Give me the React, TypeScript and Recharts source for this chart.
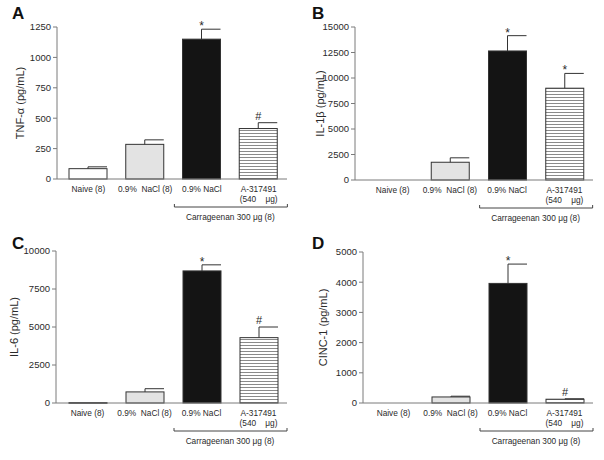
import React from 'react';
import { BarChart, Bar, XAxis, YAxis } from 'recharts';

const groups = ['Naive (8)', '0.9%  NaCl (8)', '0.9% NaCl', 'A-317491'];
const groupSub = ['', '', '', '(540    μg)'];
const bracketLabel = 'Carrageenan 300 μg (8)';

const tnfMean = [85, 285, 1150, 415];
const tnfSem = [15, 37, 82, 48];
const tnfMark = ['', '', '*', '#'];
const tnfTicks = [0, 250, 500, 750, 1000, 1250];

const il1Mean = [0, 1740, 12650, 9000];
const il1Sem = [0, 435, 1500, 1450];
const il1Mark = ['', '', '*', '*'];
const il1Ticks = [0, 2500, 5000, 7500, 10000, 12500, 15000];

const il6Mean = [30, 730, 8690, 4300];
const il6Sem = [0, 210, 400, 700];
const il6Mark = ['', '', '*', '#'];
const il6Ticks = [0, 2500, 5000, 7500, 10000];

const cincMean = [0, 200, 3960, 125];
const cincSem = [0, 25, 640, 15];
const cincMark = ['', '', '*', '#'];
const cincTicks = [0, 1000, 2000, 3000, 4000, 5000];

const FONT = '"Liberation Sans", Arial, sans-serif';
const AXIS = '#7a7a7a';
const INK = '#2a2a2a';
const BAND = 57;
const fills = ['#ffffff', '#e3e3e3', '#141414'];

function rows(mean: number[], sem: number[], mark: string[]) {
  return groups.map((g, i) => ({ group: g, idx: i, mean: mean[i], sem: sem[i], mark: mark[i] }));
}

function makeShape(pid: string) {
  return (p: any) => {
    const { x, y, width, height, payload } = p;
    if (!payload || !payload.mean) return <g />;
    const k = height / payload.mean;
    const cx = x + width / 2;
    const top = y - payload.sem * k;
    const striped = payload.idx === 3;
    const fill = striped ? `url(#stripes-${pid})` : fills[payload.idx];
    return (
      <g>
        {striped && (
          <defs>
            <pattern id={`stripes-${pid}`} patternUnits="userSpaceOnUse" width={6} height={3}>
              <rect width={6} height={3} fill="#fff" />
              <line x1={0} y1={1.5} x2={6} y2={1.5} stroke="#8a8a8a" strokeWidth={1} />
            </pattern>
          </defs>
        )}
        <rect x={x} y={y} width={width} height={Math.max(height, 0.8)} fill={fill} stroke="#333" strokeWidth={1} />
        {payload.sem > 0 && (
          <path d={`M${cx},${y} V${top} H${x + width}`} stroke="#333" strokeWidth={1} fill="none" />
        )}
        {payload.mark && (
          <text
            x={cx}
            y={payload.mark === '*' ? top + 1 : top - 3}
            textAnchor="middle"
            fontSize={payload.mark === '*' ? 12 : 11}
            fontFamily={FONT}
            fill={INK}
          >
            {payload.mark}
          </text>
        )}
      </g>
    );
  };
}

function XTick(p: any) {
  const { x, y, payload } = p;
  const i = groups.indexOf(payload.value);
  return (
    <g>
      <text x={x} y={y + 13} textAnchor="middle" fontSize={8.3} fontFamily={FONT} fill={INK} style={{ whiteSpace: 'pre' }}>
        {payload.value}
      </text>
      {groupSub[i] && (
        <text x={x} y={y + 23} textAnchor="middle" fontSize={8.3} fontFamily={FONT} fill={INK} style={{ whiteSpace: 'pre' }}>
          {groupSub[i]}
        </text>
      )}
      {i === 2 && (
        <g>
          <path
            d={`M${x - BAND / 2 + 1},${y + 25} V${y + 28} H${x + 1.5 * BAND} V${y + 25}`}
            stroke="#444"
            fill="none"
            strokeWidth={1}
          />
          <text x={x + BAND / 2} y={y + 41} textAnchor="middle" fontSize={8.3} fontFamily={FONT} fill={INK}>
            {bracketLabel}
          </text>
        </g>
      )}
    </g>
  );
}

interface PanelProps {
  pid: string;
  letter: string;
  yLabel: string;
  data: any[];
  ticks: number[];
  left: number;
  top: number;
  width: number;
  yWidth: number;
  marginTop: number;
  xHeight: number;
  marginRight: number;
  padLeft: number;
  labelX: number;
}

function Panel(pp: PanelProps) {
  const max = pp.ticks[pp.ticks.length - 1];
  return (
    <div style={{ position: 'absolute', left: pp.left, top: pp.top, width: pp.width, height: 230 }}>
      <div
        style={{
          position: 'absolute',
          left: 12,
          top: 4,
          fontFamily: FONT,
          fontWeight: 'bold',
          fontSize: 17,
          color: '#111',
          zIndex: 2,
        }}
      >
        {pp.letter}
      </div>
      <BarChart
        width={pp.width}
        height={230}
        data={pp.data}
        margin={{ top: pp.marginTop, right: pp.marginRight, left: 0, bottom: 0 }}
        barSize={38}
      >
        <XAxis
          dataKey="group"
          type="category"
          stroke={AXIS}
          tickLine={false}
          tickSize={0}
          tickMargin={0}
          height={pp.xHeight}
          padding={{ left: pp.padLeft, right: 0 }}
          interval={0}
          tick={<XTick />}
        />
        <YAxis
          type="number"
          domain={[0, max]}
          ticks={pp.ticks}
          width={pp.yWidth}
          stroke={AXIS}
          tickSize={4}
          tickMargin={2}
          interval={0}
          tick={{ fontSize: 9.5, fill: INK, fontFamily: FONT }}
          label={{
            content: (lp: any) => {
              const vb = lp.viewBox || { y: 0, height: 0 };
              const cy = vb.y + vb.height / 2;
              return (
                <text
                  x={pp.labelX}
                  y={cy}
                  transform={`rotate(-90 ${pp.labelX} ${cy})`}
                  textAnchor="middle"
                  dominantBaseline="central"
                  fontSize={11}
                  fontFamily={FONT}
                  fill={INK}
                >
                  {pp.yLabel}
                </text>
              );
            },
          }}
        />
        <Bar dataKey="mean" isAnimationActive={false} shape={makeShape(pp.pid)} />
      </BarChart>
    </div>
  );
}

export default function App() {
  return (
    <div style={{ position: 'fixed', left: 0, top: 0, width: 604, height: 460, background: '#fff' }}>
      <Panel
        pid="a"
        letter="A"
        yLabel="TNF-α (pg/mL)"
        data={rows(tnfMean, tnfSem, tnfMark)}
        ticks={tnfTicks}
        left={0}
        top={0}
        width={300}
        yWidth={57}
        marginTop={27}
        xHeight={51}
        marginRight={13}
        padLeft={3}
        labelX={20}
      />
      <Panel
        pid="b"
        letter="B"
        yLabel="IL-1β (pg/mL)"
        data={rows(il1Mean, il1Sem, il1Mark)}
        ticks={il1Ticks}
        left={300}
        top={0}
        width={304}
        yWidth={55}
        marginTop={27}
        xHeight={50}
        marginRight={11}
        padLeft={9}
        labelX={20}
      />
      <Panel
        pid="c"
        letter="C"
        yLabel="IL-6 (pg/mL)"
        data={rows(il6Mean, il6Sem, il6Mark)}
        ticks={il6Ticks}
        left={0}
        top={230}
        width={300}
        yWidth={56}
        marginTop={21}
        xHeight={57}
        marginRight={13}
        padLeft={3}
        labelX={14}
      />
      <Panel
        pid="d"
        letter="D"
        yLabel="CINC-1 (pg/mL)"
        data={rows(cincMean, cincSem, cincMark)}
        ticks={cincTicks}
        left={300}
        top={230}
        width={304}
        yWidth={63}
        marginTop={22}
        xHeight={57}
        marginRight={11}
        padLeft={2}
        labelX={23}
      />
    </div>
  );
}
